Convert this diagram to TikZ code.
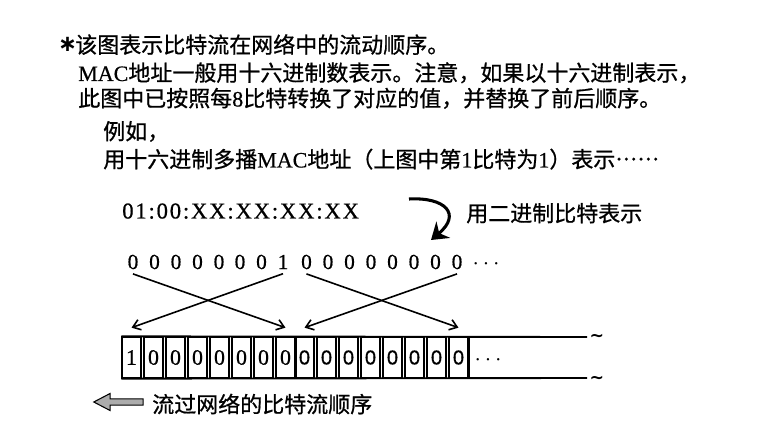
\documentclass[tikz,border=0pt]{standalone}
\usepackage{fontspec}
\setmainfont[FakeBold=0.6]{Liberation Serif}
\setsansfont[FakeBold=0.6]{Liberation Sans}
\newfontfamily\cjk[Script=CJK, Language=Chinese Simplified, FakeBold=0.8]{Noto Sans CJK SC}
\newfontfamily\spacedserif[LetterSpace=8, FakeBold=0.6]{Liberation Serif}
\newfontfamily\symbolfont{DejaVu Sans}
\usepackage{tikz}
\usetikzlibrary{arrows.meta,positioning,shapes.arrows}
\newcommand{\latinpart}[1]{{\rmfamily #1}}

\begin{document}
\begin{tikzpicture}[
    x=0.75pt, y=-0.75pt,
    note/.style={anchor=base west, inner sep=0pt, font=\cjk\fontsize{16.5}{20}\selectfont},
    bit/.style={anchor=base, font=\fontsize{16}{18}\selectfont},
    cell/.style={draw, line width=1pt, minimum width=14.25pt, minimum height=30.75pt, inner sep=0pt, font=\fontsize{16.5}{18}\selectfont},
    cellsf/.style={cell, font=\sffamily\fontsize{15}{18}\selectfont},
    cross/.style={-{Straight Barb[length=5.5pt,width=8pt]}, line width=1.2pt},
    wave/.style={anchor=base, font=\symbolfont\bfseries\fontsize{13}{13}\selectfont}
]
\useasboundingbox (0,0) rectangle (768,431);

% Note text
\node (star) [anchor=base, font=\symbolfont\bfseries\fontsize{17}{17}\selectfont] at (67.5,52) {∗};
\node (line1) [note] at (75,53) {该图表示比特流在网络中的流动顺序。};
\node (line2) [note] at (78,81) {\latinpart{MAC}地址一般用十六进制数表示。注意，如果以十六进制表示，};
\node (line3) [note] at (78,106.5) {此图中已按照每\latinpart{8}比特转换了对应的值，并替换了前后顺序。};
\node (eg1) [note] at (103,139.5) {例如，};
\node (eg2) [note] at (103,167.5) {用十六进制多播\latinpart{MAC}地址（上图中第\latinpart{1}比特为\latinpart{1}）表示……};

% Hex address and turn arrow
\node (hexaddr) [anchor=base west, inner sep=0pt, font=\spacedserif\fontsize{17}{18}\selectfont] at (122,218.5) {01:00:XX:XX:XX:XX};
\node (binlabel) [note] at (466,221.5) {用二进制比特表示};
\coordinate (turnfrom) at (409,199);
\coordinate (turnto) at (431,240);
\draw [line width=2.3pt, -{Stealth[length=12pt,width=16pt,inset=4pt]}] (turnfrom) .. controls (445,197) and (462,214) .. (turnto);

% Bits in binary
\node (b0) [bit] at (133,269) {0};
\node (b1) [bit] at (154.5,269) {0};
\node (b2) [bit] at (176,269) {0};
\node (b3) [bit] at (197.5,269) {0};
\node (b4) [bit] at (219,269) {0};
\node (b5) [bit] at (240,269) {0};
\node (b6) [bit] at (261.5,269) {0};
\node (b7) [bit] at (283,269) {1};
\node (b8) [bit] at (306.5,269) {0};
\node (b9) [bit] at (328,269) {0};
\node (b10) [bit] at (349.5,269) {0};
\node (b11) [bit] at (371,269) {0};
\node (b12) [bit] at (392.5,269) {0};
\node (b13) [bit] at (414,269) {0};
\node (b14) [bit] at (435.5,269) {0};
\node (b15) [bit] at (457,269) {0};
\node (bitdots) [bit] at (486,269) {$\cdots$};

% Bit stream cells
\node (c0) [cell] at (131.5,357.5) {1};
\node (c1) [cell] at (153.5,357.5) {0};
\node (c2) [cell] at (175.5,357.5) {0};
\node (c3) [cell] at (197.5,357.5) {0};
\node (c4) [cell] at (219.5,357.5) {0};
\node (c5) [cell] at (241.5,357.5) {0};
\node (c6) [cell] at (263.5,357.5) {0};
\node (c7) [cell] at (285.5,357.5) {0};
\node (c8) [cellsf] at (304.5,357.5) {0};
\node (c9) [cellsf] at (326.5,357.5) {0};
\node (c10) [cellsf] at (348.5,357.5) {0};
\node (c11) [cellsf] at (370.5,357.5) {0};
\node (c12) [cellsf] at (392.5,357.5) {0};
\node (c13) [cellsf] at (414.5,357.5) {0};
\node (c14) [cellsf] at (436.5,357.5) {0};
\node (c15) [cellsf] at (458.5,357.5) {0};
\node (tapedots) [bit] at (488,365) {$\cdots$};

% Tape frame
\coordinate (tapetop) at (587,337);
\coordinate (tapebottom) at (587,378);
\draw [line width=1.4pt] (c0.north west) -- (tapetop);
\draw [line width=1.4pt] (c0.south west) -- (tapebottom);
\draw [line width=2pt] (c7.north east) -- (c7.south east);
\draw [line width=2pt] (c15.north east) -- (c15.south east);
\node (wavetop) [wave] at (597,341) {\textasciitilde};
\node (wavebottom) [wave] at (597,383) {\textasciitilde};

% Byte order swap
\draw [cross] (b0.south) -- ([yshift=6.5pt]c7.north);
\draw [cross] (b7.south) -- ([yshift=6.5pt]c0.north);
\draw [cross] (b8.south) -- ([yshift=6.5pt]c15.north);
\draw [cross] (b15.south) -- ([yshift=6.5pt]c8.north);

% Flow direction
\node (flowarrow) [single arrow, draw, line width=0.8pt, fill=gray!65, shape border rotate=180, minimum height=37pt, minimum width=12pt, inner sep=2pt, single arrow head extend=4pt, single arrow tip angle=55] at (121.5,402) {};
\node (flowlabel) [note] at (152,412.5) {流过网络的比特流顺序};
\end{tikzpicture}
\end{document}
